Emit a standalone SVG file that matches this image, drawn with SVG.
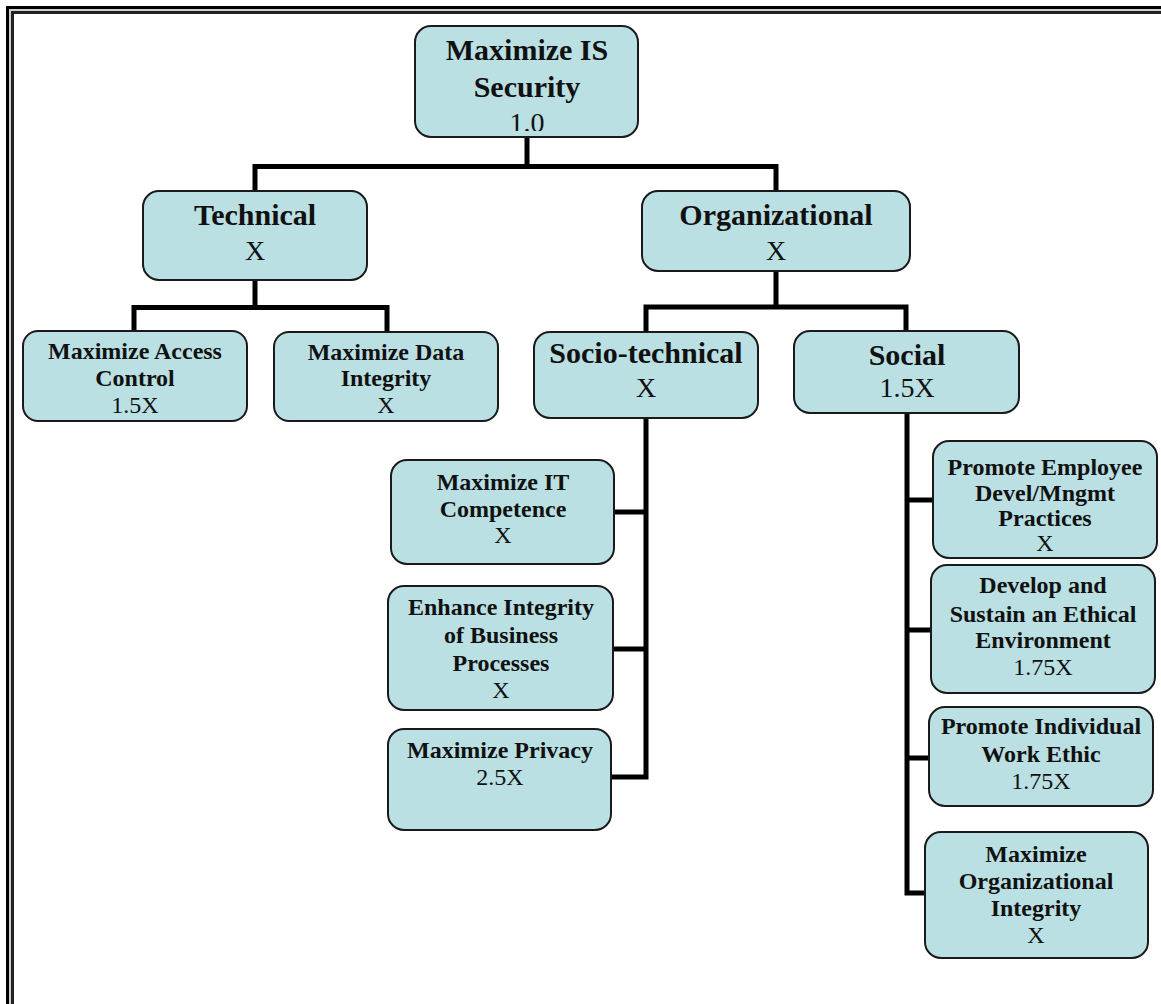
<svg xmlns="http://www.w3.org/2000/svg" width="1161" height="1004" viewBox="0 0 1161 1004">
<style>
.box{fill:#BAE0E3;stroke:#1a1a1a;stroke-width:2}
.t{font-family:"Liberation Serif","Times New Roman",serif;text-anchor:middle;fill:#111}
.b{font-weight:bold}
.L{font-size:30px}
.Lv{font-size:28px}
.S{font-size:24px}
.conn{fill:none;stroke:#000;stroke-width:5;stroke-linecap:square;stroke-linejoin:miter}
</style>
<defs>
<clipPath id="rootclip"><rect x="415" y="26" width="223" height="105"/></clipPath>
</defs>
<rect x="0" y="0" width="1161" height="1004" fill="#fff"/>
<g id="frame">
<rect x="6" y="6" width="1155" height="3" fill="#000"/>
<rect x="9" y="9" width="1152" height="2" fill="#cfcfcf"/>
<rect x="11" y="11" width="1150" height="3" fill="#222"/>
<rect x="6" y="6" width="3" height="998" fill="#000"/>
<rect x="9" y="9" width="2" height="995" fill="#cfcfcf"/>
<rect x="11" y="11" width="3" height="993" fill="#222"/>
</g>
<g id="connectors">
<path class="conn" d="M527 137 V166.5 M255 191 V166.5 H776 V191"/>
<path class="conn" d="M255 280 V307.5 M134 331 V307.5 H387 V331"/>
<path class="conn" d="M776 271 V307 M646 332 V307 H906 V332"/>
<path class="conn" d="M646 418 V777 H611 M614 512 H646 M613 649 H646"/>
<path class="conn" d="M907 413 V893 H925 M907 500 H933 M907 630 H931 M907 758 H929"/>
</g>
<g id="root">
<rect class="box" x="415" y="26" width="223" height="111" rx="16"/>
<text class="t b L" x="527" y="60">Maximize IS</text>
<text class="t b L" x="527" y="97">Security</text>
<text class="t Lv" x="527" y="132" clip-path="url(#rootclip)">1.0</text>
</g>
<g id="technical">
<rect class="box" x="143" y="191" width="224" height="89" rx="16"/>
<text class="t b L" x="255" y="225">Technical</text>
<text class="t Lv" x="255" y="260">X</text>
</g>
<g id="organizational">
<rect class="box" x="642" y="191" width="268" height="80" rx="16"/>
<text class="t b L" x="776" y="225">Organizational</text>
<text class="t Lv" x="776" y="260">X</text>
</g>
<g id="access">
<rect class="box" x="23" y="331" width="224" height="90" rx="15"/>
<text class="t b S" x="135" y="359">Maximize Access</text>
<text class="t b S" x="135" y="386">Control</text>
<text class="t S" x="135" y="413">1.5X</text>
</g>
<g id="dataintegrity">
<rect class="box" x="274" y="332" width="224" height="89" rx="15"/>
<text class="t b S" x="386" y="360">Maximize Data</text>
<text class="t b S" x="386" y="386">Integrity</text>
<text class="t S" x="386" y="413">X</text>
</g>
<g id="sociotechnical">
<rect class="box" x="534" y="332" width="224" height="86" rx="16"/>
<text class="t b L" x="646" y="363">Socio-technical</text>
<text class="t Lv" x="646" y="397">X</text>
</g>
<g id="social">
<rect class="box" x="794" y="331" width="225" height="82" rx="16"/>
<text class="t b L" x="907" y="365">Social</text>
<text class="t Lv" x="907" y="397">1.5X</text>
</g>
<g id="itcompetence">
<rect class="box" x="391" y="460" width="223" height="104" rx="16"/>
<text class="t b S" x="503" y="490">Maximize IT</text>
<text class="t b S" x="503" y="517">Competence</text>
<text class="t S" x="503" y="543">X</text>
</g>
<g id="businessprocesses">
<rect class="box" x="388" y="586" width="225" height="124" rx="16"/>
<text class="t b S" x="501" y="615">Enhance Integrity</text>
<text class="t b S" x="501" y="643">of Business</text>
<text class="t b S" x="501" y="671">Processes</text>
<text class="t S" x="501" y="698">X</text>
</g>
<g id="privacy">
<rect class="box" x="388" y="729" width="223" height="101" rx="16"/>
<text class="t b S" x="500" y="758">Maximize Privacy</text>
<text class="t S" x="500" y="785">2.5X</text>
</g>
<g id="employee">
<rect class="box" x="933" y="441" width="224" height="117" rx="16"/>
<text class="t b S" x="1045" y="475">Promote Employee</text>
<text class="t b S" x="1045" y="501">Devel/Mngmt</text>
<text class="t b S" x="1045" y="526">Practices</text>
<text class="t S" x="1045" y="551">X</text>
</g>
<g id="ethical">
<rect class="box" x="931" y="565" width="224" height="128" rx="16"/>
<text class="t b S" x="1043" y="593">Develop and</text>
<text class="t b S" x="1043" y="622">Sustain an Ethical</text>
<text class="t b S" x="1043" y="648">Environment</text>
<text class="t S" x="1043" y="675">1.75X</text>
</g>
<g id="workethic">
<rect class="box" x="929" y="707" width="224" height="99" rx="16"/>
<text class="t b S" x="1041" y="734">Promote Individual</text>
<text class="t b S" x="1041" y="762">Work Ethic</text>
<text class="t S" x="1041" y="789">1.75X</text>
</g>
<g id="orgintegrity">
<rect class="box" x="925" y="832" width="223" height="126" rx="16"/>
<text class="t b S" x="1036" y="862">Maximize</text>
<text class="t b S" x="1036" y="889">Organizational</text>
<text class="t b S" x="1036" y="916">Integrity</text>
<text class="t S" x="1036" y="943">X</text>
</g>
</svg>
